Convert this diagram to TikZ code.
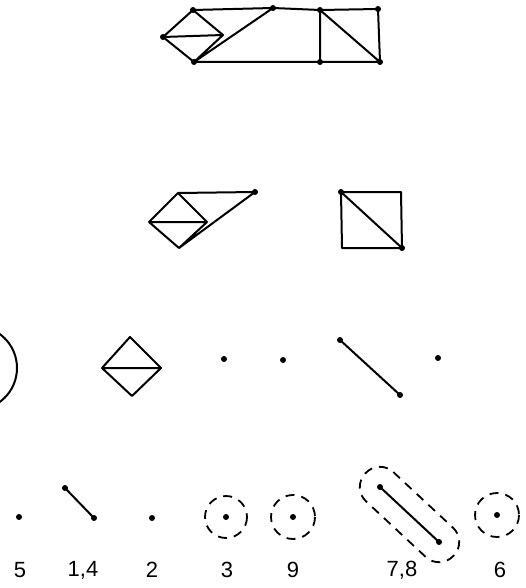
\documentclass[tikz,border=0pt]{standalone}
\usepackage{fontspec}
\setmainfont{Liberation Sans}
\usetikzlibrary{calc}
\begin{document}
\begin{tikzpicture}[x=1pt,y=-1pt,
  edge/.style={line width=2pt,line join=round,line cap=round},
  dotn/.style={circle,fill,inner sep=0pt,minimum size=6pt},
  ring/.style={line width=1.8pt,dash pattern=on 9pt off 7pt},
  lab/.style={font=\fontsize{22}{22}\selectfont,inner sep=0pt}]
\useasboundingbox (0,0) rectangle (526,588);
% top graph
\coordinate (t1) at (163,37);
\coordinate (t2) at (193,10);
\coordinate (t3) at (194,62);
\coordinate (t4) at (223,35);
\coordinate (t5) at (273,8);
\coordinate (t6) at (320,10);
\coordinate (t7) at (378,9);
\coordinate (t8) at (320,62);
\coordinate (t9) at (380,62);
\draw[edge] (t1)--(t2) (t1)--(t3) (t1)--(t4) (t2)--(t4) (t4)--(t3)
  (t2)--(t5) (t5)--(t6) (t6)--(t7) (t5)--(t3) (t3)--(t8) (t8)--(t9)
  (t6)--(t8) (t7)--(t9) (t6)--(t9);
\foreach \p in {t1,t2,t3,t5,t6,t7,t8,t9} \node[dotn] at (\p) {};
% row 2
\coordinate (a1) at (149,222);
\coordinate (a2) at (178,193);
\coordinate (a3) at (207,222);
\coordinate (a4) at (179,248);
\coordinate (a5) at (255,192);
\draw[edge] (a1)--(a2) (a1)--(a3) (a1)--(a4) (a2)--(a3) (a3)--(a4)
  (a2)--(a5) (a5)--(a4);
\node[dotn] at (a5) {};
\coordinate (s1) at (341,192);
\coordinate (s2) at (401,192);
\coordinate (s3) at (342,248);
\coordinate (s4) at (402,248);
\draw[edge] (s1)--(s2)--(s4)--(s3)--cycle (s1)--(s4);
\node[dotn] at (s1) {};
\node[dotn] at (s4) {};
% row 3
\coordinate (c0) at (-25,368);
\draw[line width=2pt] (c0) circle[radius=42];
\node[lab] (c0lab) at (-5,364) {5};
\coordinate (d1) at (102,368);
\coordinate (d2) at (130,337);
\coordinate (d3) at (161,368);
\coordinate (d4) at (132,396);
\draw[edge] (d1)--(d2)--(d3)--(d4)--cycle (d1)--(d3);
\node[dotn] (p1) at (224,359) {};
\node[dotn] (p2) at (283,360) {};
\node[dotn] (p3) at (438,358) {};
\node[dotn] (e1) at (340,340) {};
\node[dotn] (e2) at (400,395) {};
\draw[edge] (e1.center)--(e2.center);
% row 4
\node[dotn] (q1) at (19,517) {};
\node[dotn] (f1) at (65,488) {};
\node[dotn] (f2) at (94,518) {};
\draw[edge] (f1.center)--(f2.center);
\node[dotn] (q2) at (152,518) {};
\node[dotn] (q3) at (226,517) {};
\draw[ring] (q3.center) circle[radius=21];
\node[dotn] (q4) at (293,517) {};
\draw[ring] (q4.center) circle[radius=22];
\node[dotn] (g1) at (380,487) {};
\node[dotn] (g2) at (439,542) {};
\draw[edge] (g1.center)--(g2.center);
\coordinate (g1e) at ($(g1.center)!-20pt!(g2.center)$);
\coordinate (g2e) at ($(g2.center)!-20pt!(g1.center)$);
\draw[ring,rounded corners=19.5pt]
  ($(g1e)!20pt!90:(g2e)$) -- ($(g2e)!20pt!-90:(g1e)$) --
  ($(g2e)!20pt!90:(g1e)$) -- ($(g1e)!20pt!-90:(g2e)$) -- cycle;
\node[dotn] (q5) at (497,515) {};
\draw[ring] (q5.center) circle[radius=22];
% labels
\node[lab] (l1) at (20,570) {5};
\node[lab] (l2) at (83,570) {1,4};
\node[lab] (l3) at (152,570) {2};
\node[lab] (l4) at (227,570) {3};
\node[lab] (l5) at (293,570) {9};
\node[lab] (l6) at (402,570) {7,8};
\node[lab] (l7) at (500,570) {6};
\end{tikzpicture}
\end{document}
